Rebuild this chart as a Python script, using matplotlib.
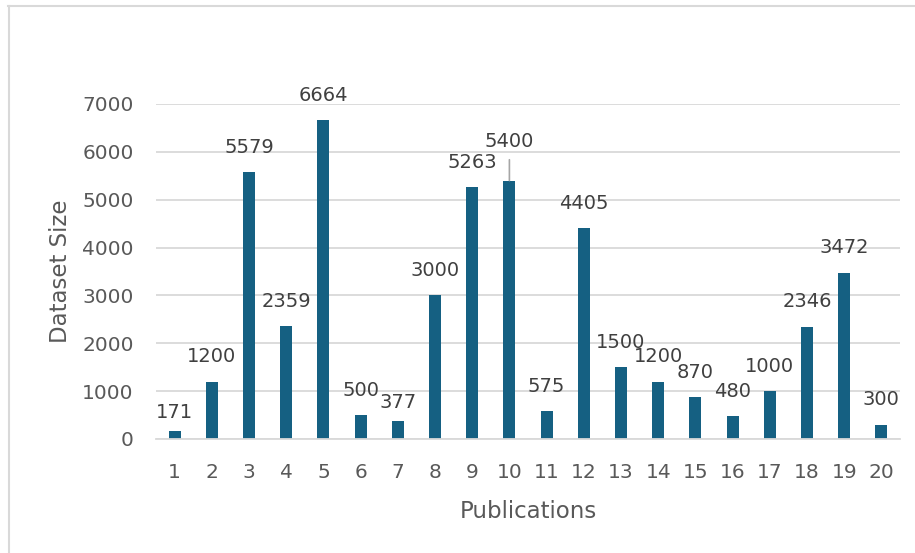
import matplotlib
matplotlib.use("Agg")
import matplotlib.pyplot as plt
from matplotlib.lines import Line2D
import numpy as np

# Data
publications = list(range(1, 21))
dataset_size = [171, 1200, 5579, 2359, 6664, 500, 377, 3000, 5263, 5400,
                575, 4405, 1500, 1200, 870, 480, 1000, 2346, 3472, 300]
y_ticks = [0, 1000, 2000, 3000, 4000, 5000, 6000, 7000]

BAR_COLOR = '#156082'
GRID_COLOR = '#d9d9d9'
TICK_COLOR = '#595959'
LABEL_COLOR = '#404040'

# label offsets (points above bar top) where Excel moved them
label_dy = {1: 13.5, 7: 13.5, 10: 28}

plt.rcParams['font.family'] = ['DejaVu Sans']

fig = plt.figure(figsize=(9.15, 5.53), dpi=100)
ax = fig.add_axes([156 / 915, 1 - 439 / 553, 744 / 915, 335 / 553])

ax.bar(publications, dataset_size, width=0.32, color=BAR_COLOR, zorder=3)

ax.set_xlim(0.5, 20.5)
ax.set_ylim(0, 7000)
ax.set_yticks(y_ticks)
ax.set_xticks(publications)
ax.set_xticklabels([str(p) for p in publications])
ax.yaxis.grid(True, color=GRID_COLOR, linewidth=1.3, zorder=0)
ax.set_axisbelow(True)

for side in ['top', 'right', 'left']:
    ax.spines[side].set_visible(False)
ax.spines['bottom'].set_color(GRID_COLOR)
ax.spines['bottom'].set_linewidth(1.3)
ax.spines['bottom'].set_zorder(4)

ax.tick_params(axis='both', length=0, labelsize=14.5, labelcolor=TICK_COLOR)
ax.tick_params(axis='x', pad=17)
ax.tick_params(axis='y', pad=16)

ax.set_xlabel('Publications', fontsize=16.5, color=TICK_COLOR, labelpad=13)
ax.set_ylabel('Dataset Size', fontsize=16.5, color=TICK_COLOR, labelpad=7.5)

# data labels
for p, v in zip(publications, dataset_size):
    dy = label_dy.get(p, 18)
    ax.annotate(str(v), (p, v), xytext=(0, dy), textcoords='offset points',
                ha='center', va='center', fontsize=14, color=LABEL_COLOR,
                zorder=5)
    if p == 10:
        # leader line from the moved label down to the bar
        ax.annotate('', (p, v), xytext=(0, 15), textcoords='offset points',
                    arrowprops=dict(arrowstyle='-', color='#a6a6a6', lw=1.2,
                                    shrinkA=0, shrinkB=0))

# chart area border (top and left only visible)
fig.add_artist(Line2D([8 / 915, 1], [1 - 5.5 / 553, 1 - 5.5 / 553],
                      color='#d9d9d9', lw=1.5, transform=fig.transFigure))
fig.add_artist(Line2D([8.5 / 915, 8.5 / 915], [0, 1 - 5.5 / 553],
                      color='#d9d9d9', lw=1.5, transform=fig.transFigure))

fig.savefig('out.png', dpi=100, facecolor='white')
